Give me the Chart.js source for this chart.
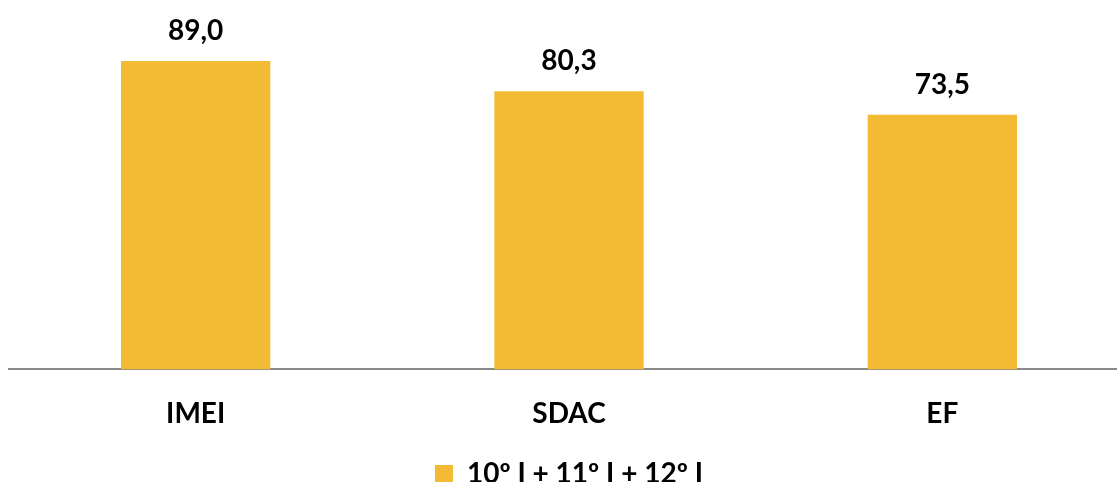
<!DOCTYPE html>
<html lang="pt">
<head>
  <meta charset="UTF-8" />
  <title>IMEI / SDAC / EF</title>
  <script src="https://cdn.jsdelivr.net/npm/chart.js"></script>
  <style>
    html, body { margin: 0; padding: 0; background: #ffffff; overflow: hidden; }
    #wrap { width: 1117px; height: 482px; overflow: hidden; }
  </style>
</head>
<body>
<div id="wrap"><canvas id="barChart" width="1129" height="498"></canvas></div>

<script>
  const categories = ['IMEI', 'SDAC', 'EF'];
  const seriesName = '10º I + 11º I + 12º I';
  const seriesValues = [89.0, 80.3, 73.5];

  const barColor = '#F3BB33';
  const fontFamily = "Lato, 'Open Sans', sans-serif";
  const fontWeight = 'bold';

  // draws the value above each bar, with a comma as decimal mark
  const valueLabels = {
    id: 'valueLabels',
    afterDatasetsDraw(chart) {
      const ctx = chart.ctx;
      const meta = chart.getDatasetMeta(0);
      ctx.save();
      ctx.font = fontWeight + ' 28px ' + fontFamily;
      ctx.fillStyle = '#000000';
      ctx.textAlign = 'center';
      ctx.textBaseline = 'alphabetic';
      meta.data.forEach((bar, i) => {
        const txt = seriesValues[i].toFixed(1).replace('.', ',');
        ctx.fillText(txt, bar.x, bar.y - 21);
      });
      ctx.restore();
    }
  };

  new Chart(document.getElementById('barChart').getContext('2d'), {
    type: 'bar',
    data: {
      labels: categories,
      datasets: [{
        label: seriesName,
        data: seriesValues,
        backgroundColor: barColor,
        borderWidth: 0,
        barPercentage: 0.4,
        categoryPercentage: 1.0
      }]
    },
    options: {
      responsive: false,
      animation: false,
      layout: { padding: { left: 9, right: 0, top: 23, bottom: 0 } },
      scales: {
        x: {
          grid: { display: false },
          border: { display: true, color: '#898989', width: 2 },
          ticks: {
            color: '#000000',
            font: { family: fontFamily, size: 28, weight: fontWeight },
            padding: 20
          }
        },
        y: {
          display: false,
          min: 0,
          max: 100
        }
      },
      plugins: {
        legend: {
          position: 'bottom',
          labels: {
            color: '#000000',
            font: { family: fontFamily, size: 28, weight: fontWeight },
            boxWidth: 18,
            boxHeight: 18,
            padding: 9
          }
        },
        tooltip: { enabled: false }
      }
    },
    plugins: [valueLabels]
  });
</script>
</body>
</html>
